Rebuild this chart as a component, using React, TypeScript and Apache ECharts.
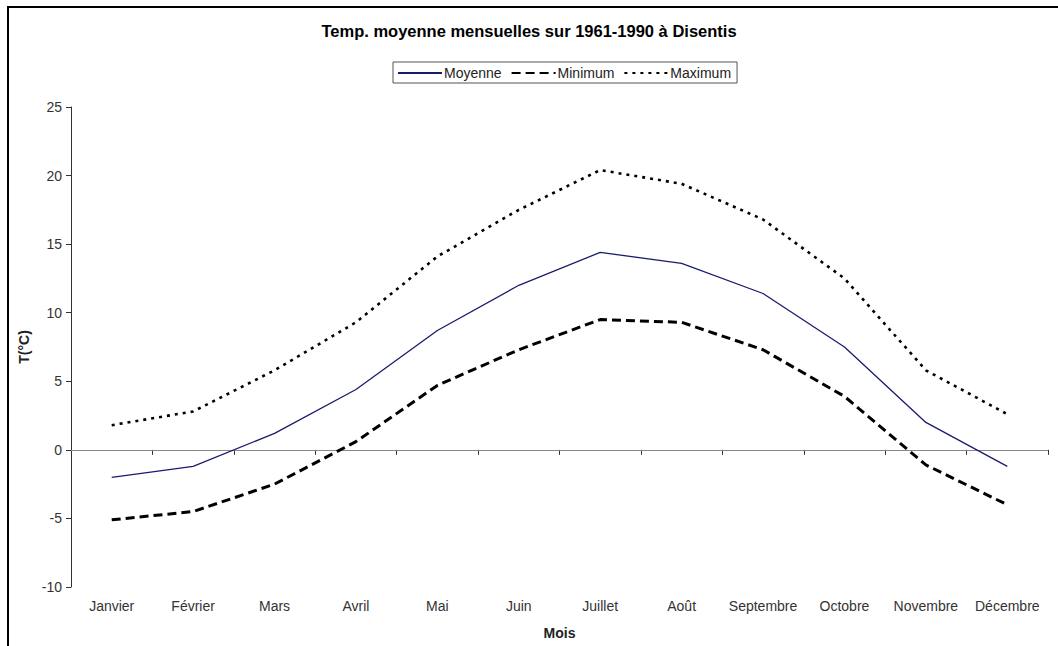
import React, { useEffect, useRef } from "react";
import * as echarts from "echarts";

const months = ["Janvier", "Février", "Mars", "Avril", "Mai", "Juin", "Juillet", "Août", "Septembre", "Octobre", "Novembre", "Décembre"];
const moyenne = [-2.0, -1.2, 1.2, 4.4, 8.7, 12.0, 14.4, 13.6, 11.4, 7.5, 2.0, -1.2];
const minimum = [-5.1, -4.5, -2.5, 0.6, 4.7, 7.3, 9.5, 9.3, 7.3, 3.9, -1.1, -4.0];
const maximum = [1.8, 2.8, 5.8, 9.3, 14.1, 17.5, 20.4, 19.4, 16.8, 12.5, 5.8, 2.6];

const FONT = "'Liberation Sans', Arial, sans-serif";

export default function App() {
  const ref = useRef<HTMLDivElement>(null);
  useEffect(() => {
    if (!ref.current) return;
    const chart = echarts.init(ref.current, null, { renderer: "svg" });
    chart.setOption({
      animation: false,
      backgroundColor: "#fff",
      textStyle: { fontFamily: FONT },
      title: {
        text: "Temp. moyenne mensuelles sur 1961-1990 à Disentis",
        left: "center",
        top: 17,
        textStyle: { fontSize: 16.5, fontWeight: "bold", color: "#000", fontFamily: FONT },
      },
      legend: {
        top: 62,
        left: 393,
        orient: "horizontal",
        borderColor: "#555",
        borderWidth: 1,
        padding: [4, 6, 3, 4],
        itemGap: 9,
        itemWidth: 44,
        itemHeight: 12,
        itemStyle: { opacity: 0 },
        textStyle: { fontSize: 14, color: "#222", fontFamily: FONT, padding: [0, 0, 0, -3] },
        data: ["Moyenne", "Minimum", "Maximum"],
      },
      graphic: [
        {
          type: "rect",
          shape: { x: 8, y: 7, width: 1200, height: 800 },
          style: { fill: "none", stroke: "#000", lineWidth: 2 },
          silent: true,
        },
      ],
      grid: { left: 71, top: 107, right: 10, bottom: 59, containLabel: false },
      xAxis: {
        type: "category",
        data: months,
        boundaryGap: true,
        name: "Mois",
        nameLocation: "middle",
        nameGap: 39,
        nameTextStyle: { fontWeight: "bold", fontSize: 14, color: "#222", fontFamily: FONT },
        axisLine: { lineStyle: { color: "#333", width: 1 } },
        axisTick: { show: true, alignWithLabel: false, length: 5, lineStyle: { color: "#333" } },
        axisLabel: { fontSize: 14, color: "#333", margin: 12, interval: 0, fontFamily: FONT },
        splitLine: { show: false },
      },
      yAxis: {
        type: "value",
        min: -10,
        max: 25,
        interval: 5,
        name: "T(°C)",
        nameLocation: "middle",
        nameGap: 34,
        nameRotate: 90,
        nameTextStyle: { fontWeight: "bold", fontSize: 14, color: "#222", fontFamily: FONT },
        axisLine: { show: true, lineStyle: { color: "#333", width: 1 } },
        axisTick: { show: true, inside: false, length: 5, lineStyle: { color: "#333" } },
        axisLabel: { fontSize: 14, color: "#333", margin: 9, fontFamily: FONT },
        splitLine: { show: false },
      },
      series: [
        {
          name: "Moyenne",
          type: "line",
          data: moyenne,
          symbol: "none",
          lineStyle: { color: "#1a1a6e", width: 1.3, type: "solid" },
          itemStyle: { color: "#1a1a6e" },
          z: 3,
          markLine: {
            silent: true,
            symbol: "none",
            label: { show: false },
            lineStyle: { color: "#888", width: 1, type: "solid" },
            data: [{ yAxis: 0 }],
            z: 1,
          },
        },
        {
          name: "Minimum",
          type: "line",
          data: minimum,
          symbol: "none",
          lineStyle: { color: "#000", width: 3, type: [9, 5] },
          itemStyle: { color: "#000" },
          z: 3,
        },
        {
          name: "Maximum",
          type: "line",
          data: maximum,
          symbol: "none",
          lineStyle: { color: "#000", width: 2.6, type: [3, 5] },
          itemStyle: { color: "#000" },
          z: 3,
        },
      ],
    });
    return () => chart.dispose();
  }, []);
  return <div ref={ref} style={{ position: "fixed", left: 0, top: 0, width: 1058, height: 646 }} />;
}
